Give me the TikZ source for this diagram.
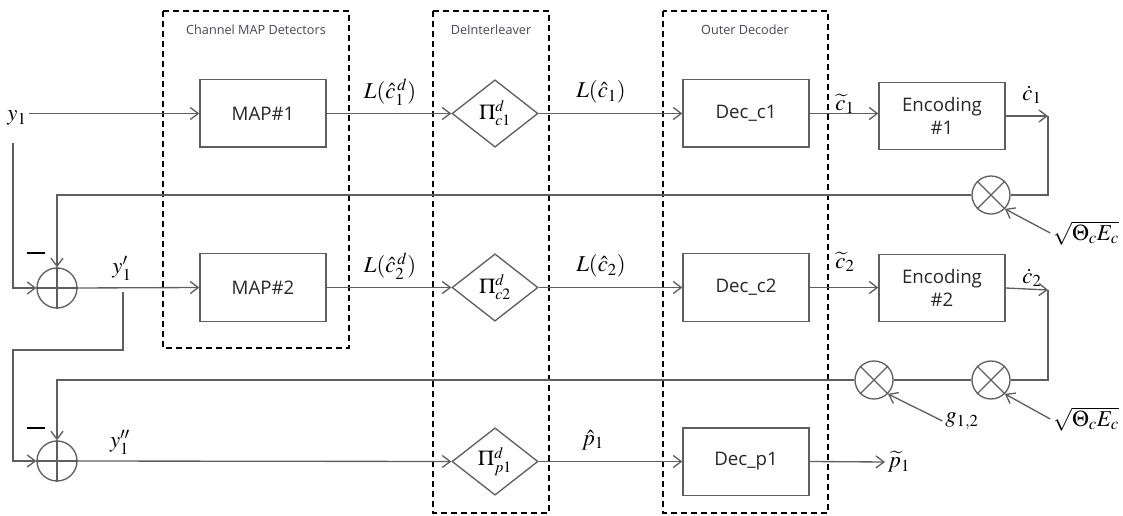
\documentclass[tikz,border=0pt]{standalone}
\usepackage{mathptmx}
\usepackage{fontspec}
\setsansfont{Open Sans}
\usetikzlibrary{arrows.meta,shapes.geometric}
\definecolor{lc}{RGB}{95,95,95}
\definecolor{tc}{RGB}{70,70,80}
\tikzset{
  ln/.style={draw=lc, line width=1pt},
  frame/.style={draw=black, line width=1.2pt, dash pattern=on 4.5pt off 3pt},
  title/.style={font=\sffamily\fontsize{9.5}{11}\selectfont, text=tc},
  box/.style={draw=lc, line width=1pt, rectangle, minimum width=94.5pt, minimum height=50.5pt,
    font=\sffamily\fontsize{14}{17}\selectfont, align=center, text=black!85},
  dia/.style={draw=lc, line width=1pt, diamond, minimum width=64.5pt, minimum height=50.5pt,
    inner sep=0pt, shape aspect=1.28, font=\fontsize{16}{18}\selectfont},
  sumnode/.style={draw=lc, line width=1pt, circle, minimum size=30pt, inner sep=0pt},
  mulnode/.style={draw=lc, line width=1pt, circle, minimum size=28.5pt, inner sep=0pt},
  lab/.style={font=\fontsize{17}{20}\selectfont, inner sep=2pt},
}
\begin{document}
\begin{tikzpicture}[x=0.75pt,y=-0.75pt, >={Straight Barb[length=6pt,width=9pt]}]
\useasboundingbox (0,0) rectangle (1123,516);
% frames
\draw[frame] (163,11) rectangle (349,348);
\draw[frame] (433,11) rectangle (549,513);
\draw[frame] (663,11) rectangle (828,513);
\node[title] (t1) at (256,30) {Channel MAP Detectors};
\node[title] (t2) at (491,30) {DeInterleaver};
\node[title] (t3) at (745,30) {Outer Decoder};
% blocks
\node[box] (map1) at (263,113.5) {MAP\#1};
\node[box] (map2) at (263,287.5) {MAP\#2};
\node[dia] (pi1) at (495,113.5) {$\Pi^{d}_{c1}$};
\node[dia] (pi2) at (495,287.5) {$\Pi^{d}_{c2}$};
\node[dia] (pi3) at (495,461.5) {$\Pi^{d}_{p1}$};
\node[box] (dec1) at (746,113.5) {Dec\_c1};
\node[box] (dec2) at (746,287.5) {Dec\_c2};
\node[box] (dec3) at (746,461.5) {Dec\_p1};
\node[box] (enc1) at (942,116) {Encoding\\\#1};
\node[box] (enc2) at (942,288) {Encoding\\\#2};
% adders and multipliers
\node[sumnode] (add1) at (57,288) {};
\node[sumnode] (add2) at (57,461) {};
\draw[ln] (add1.north) -- (add1.south) (add1.west) -- (add1.east);
\draw[ln] (add2.north) -- (add2.south) (add2.west) -- (add2.east);
\node[mulnode] (mul1) at (991,195) {};
\node[mulnode] (mul2) at (991,380) {};
\node[mulnode] (mul3) at (874,380) {};
\foreach \m in {mul1,mul2,mul3}{
  \draw[ln] (\m.north west) -- (\m.south east) (\m.north east) -- (\m.south west);
}
% labels
\node[lab] (y1) at (17,118) {$y_1$};
\node[lab] (y1p) at (122,268) {$y_1'$};
\node[lab] (y1pp) at (120,442) {$y_1''$};
\node[lab] (l1d) at (390,92) {$L(\hat c_1^{\,d})$};
\node[lab] (l2d) at (390,266) {$L(\hat c_2^{\,d})$};
\node[lab] (l1) at (601,92) {$L(\hat c_1)$};
\node[lab] (l2) at (601,266) {$L(\hat c_2)$};
\node[lab] (p1h) at (593,440) {$\hat p_1$};
\node[lab] (c1t) at (845,104) {$\widetilde c_1$};
\node[lab] (c2t) at (845,262) {$\widetilde c_2$};
\node[lab] (c1d) at (1032,95) {$\dot c_1$};
\node[lab] (c2d) at (1032,278) {$\dot c_2$};
\node[lab] (pt) at (899,462) {$\widetilde p_1$};
\node[lab] (s1) at (1086,233) {$\sqrt{\Theta_c E_c}$};
\node[lab] (s2) at (1086,419) {$\sqrt{\Theta_c E_c}$};
\node[lab] (g) at (962,421) {$g_{1,2}$};
% coordinates
\coordinate (v1) at (13,143);
\coordinate (b1) at (123,292);
\coordinate (b2) at (13,350);
\coordinate (k1) at (1048,116);
\coordinate (k2) at (1048,290);
% connectors
\draw[ln,->] (y1.east |- map1.west) -- (map1.west);
\draw[ln,->] (v1) |- (add1.west);
\draw[ln,->] (add1.east) -- (map2.west);
\draw[ln,->] (b1) |- (b2) |- (add2.west);
\draw[ln,->] (add2.east) -- (pi3.west);
\draw[ln,->] (map1.east) -- (pi1.west);
\draw[ln,->] (map2.east) -- (pi2.west);
\draw[ln,->] (pi1.east) -- (dec1.west);
\draw[ln,->] (pi2.east) -- (dec2.west);
\draw[ln,->] (pi3.east) -- (dec3.west);
\draw[ln,->] (dec1.east) -- (enc1.west |- dec1.east);
\draw[ln,->] (dec2.east) -- (enc2.west |- dec2.east);
\draw[ln,->] (dec3.east) -- (pt.west);
\draw[ln,->] (enc1.east) -- (k1);
\draw[ln] (k1) |- (mul1.east);
\draw[ln,->] (mul1.west) -| (add1.north);
\draw[ln,->] (enc2.east) -- (k2);
\draw[ln] (k2) |- (mul2.east);
\draw[ln] (mul2.west) -- (mul3.east);
\draw[ln,->] (mul3.west) -| (add2.north);
\draw[ln,->] (s1.west) -- (mul1.south east);
\draw[ln,->] (s2.west) -- (mul2.south east);
\draw[ln,->] (g.west) -- (mul3.south east);
% minus signs
\draw[line width=2.2pt] (27,253) -- (45,253);
\draw[line width=2.2pt] (27,428) -- (45,428);
\end{tikzpicture}
\end{document}
